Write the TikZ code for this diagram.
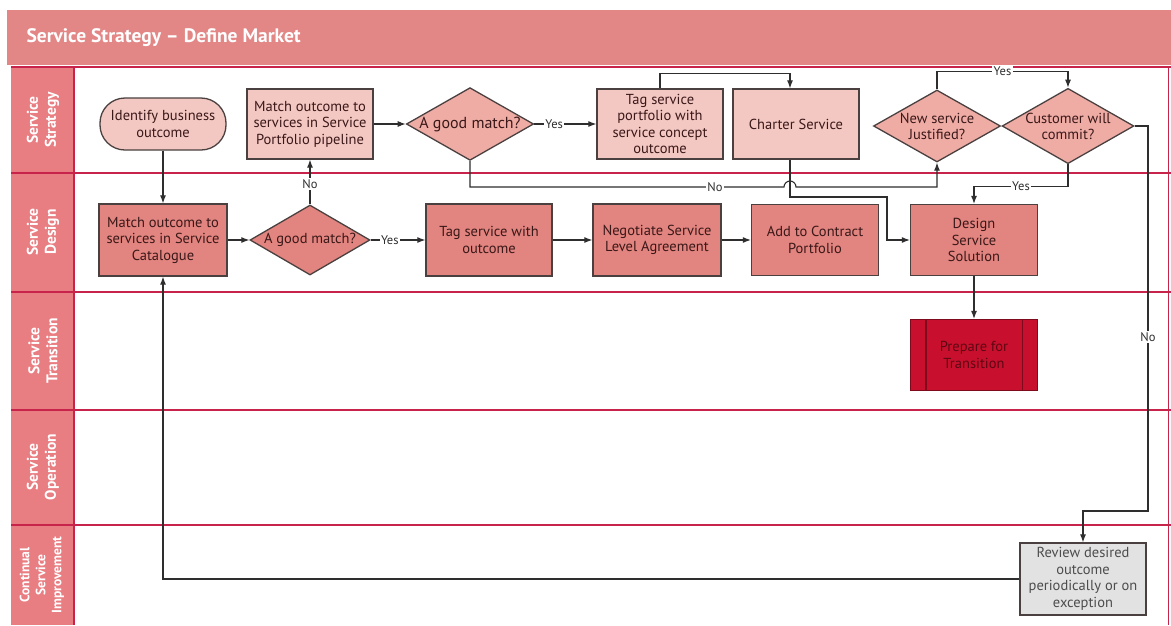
\documentclass[tikz,border=0pt]{standalone}
\usepackage{fontspec}
\setmainfont{PT Sans}
\usetikzlibrary{arrows.meta,shapes.geometric,calc}

\definecolor{bandfill}{HTML}{E38686}
\definecolor{colfill}{HTML}{E87D82}
\definecolor{laneline}{HTML}{C8234A}
\definecolor{lightfill}{HTML}{F4C8C2}
\definecolor{midfill}{HTML}{EFACA5}
\definecolor{darkfill}{HTML}{E2847F}
\definecolor{prepfill}{HTML}{C8102E}
\definecolor{prepline}{HTML}{7E0A1C}
\definecolor{preptext}{HTML}{5E0712}
\definecolor{reviewfill}{HTML}{E2E2E2}
\definecolor{boxline}{HTML}{4A4040}
\definecolor{boxtext}{HTML}{3A1818}
\definecolor{flowline}{HTML}{2E2E2E}

\begin{document}
\begin{tikzpicture}[x=1pt,y=-1pt,
  box/.style={draw=boxline, line width=1.3pt, align=center, text=boxtext,
    font=\fontsize{14.5}{16.5}\selectfont, inner sep=1pt,
    minimum width=126pt, minimum height=70pt},
  lightbox/.style={box, fill=lightfill},
  darkbox/.style={box, fill=darkfill},
  decision/.style={diamond, draw=boxline, line width=1.3pt, inner sep=0pt,
    aspect=1.75, minimum width=123pt, minimum height=70pt, align=center,
    text=boxtext, font=\fontsize{14.5}{16}\selectfont},
  flow/.style={draw=flowline, line width=1.1pt, -{Latex[length=8pt,width=6pt]}},
  tag/.style={fill=white, inner sep=1.5pt, text=flowline,
    font=\fontsize{12.5}{13}\selectfont},
  lanename/.style={rotate=90, align=center, text=white,
    font=\bfseries\fontsize{15.5}{18}\selectfont},
  laneedge/.style={draw=laneline, line width=2pt}
]
\useasboundingbox (0,0) rectangle (1171,625);
\fill[white] (0,0) rectangle (1171,625);

% title band
\fill[bandfill] (7,10) rectangle (1171,65);
\node[anchor=west, text=white, font=\bfseries\fontsize{19.5}{22}\selectfont]
  (title) at (23,38) {Service Strategy – Define Market};

% lane name column
\fill[colfill] (11,67) rectangle (74,625);
\node[lanename] (lss) at (43,120) {Service\\Strategy};
\node[lanename] (lsd) at (43,232) {Service\\Design};
\node[lanename] (lst) at (43,351) {Service\\Transition};
\node[lanename] (lso) at (43,467) {Service\\Operation};
\node[lanename, font=\bfseries\fontsize{13.5}{16}\selectfont]
  (lcsi) at (42,575) {Continual\\Service\\Improvement};

% lane borders
\foreach \yy in {67,173,292,410,525}
  \draw[laneedge] (11,\yy) -- (1171,\yy);
\draw[laneedge] (74,67) -- (74,625);
\draw[laneedge, line width=1pt] (1168,67) -- (1168,625);

% Service Strategy lane
\node[lightbox, rounded corners=25pt, minimum width=126pt, minimum height=52pt]
  (identify) at (163,124) {Identify business\\outcome};
\node[lightbox] (mportfolio) at (310,124) {Match outcome to\\services in Service\\Portfolio pipeline};
\node[decision, fill=midfill, font=\fontsize{16}{18}\selectfont] (sdiam) at (470,124) {A good match?};
\node[lightbox] (tagport) at (660,124) {Tag service\\portfolio with\\service concept\\outcome};
\node[lightbox] (charter) at (796,124) {Charter Service};
\node[decision, fill=midfill, minimum width=127pt, minimum height=72pt]
  (newsvc) at (937,126) {New service\\Justified?};
\node[decision, fill=midfill, minimum height=72pt]
  (commit) at (1068,126) {Customer will\\commit?};

% Service Design lane
\node[darkbox, minimum width=128pt, minimum height=72pt] (mcat) at (163,240)
  {Match outcome to\\services in Service\\Catalogue};
\node[decision, fill=darkfill, minimum width=120pt] (ddiam) at (310,240) {A good match?};
\node[darkbox, minimum height=72pt] (tagsvc) at (489,240) {Tag service with\\outcome};
\node[darkbox, minimum width=128pt, minimum height=72pt] (nego) at (657,240)
  {Negotiate Service\\Level Agreement};
\node[darkbox, minimum width=127pt, minimum height=71pt] (addcon) at (815,240)
  {Add to Contract\\Portfolio};
\node[darkbox, minimum width=127pt, minimum height=71pt] (design) at (974,240)
  {Design\\Service\\Solution};

% Service Transition lane
\node[box, fill=prepfill, draw=prepline, text=preptext, minimum width=127pt,
  minimum height=71pt] (prep) at (974,355) {Prepare for\\Transition};
\draw[draw=prepline, line width=1.3pt]
  ([xshift=16pt]prep.north west) -- ([xshift=16pt]prep.south west)
  ([xshift=-16pt]prep.north east) -- ([xshift=-16pt]prep.south east);

% Continual Service Improvement lane
\node[box, fill=reviewfill, text=black!70, minimum height=72pt] (review) at (1083,579)
  {Review desired\\outcome\\periodically or on\\exception};

% routing points
\coordinate (charterout) at ([xshift=-6pt]charter.south);
\coordinate (charterin) at ([xshift=-6pt]charter.north);
\coordinate (cbend) at (887,197);
\coordinate (hopL) at (784,187);
\coordinate (nobend) at (1148,511);

% connectors
\draw[flow] (identify) -- (mcat);
\draw[flow] (mcat) -- (ddiam);
\draw[flow] (ddiam.north) -- node[tag, pos=.45]{No} (mportfolio.south);
\draw[flow] (ddiam.east) -- node[tag, pos=.35]{Yes} (tagsvc.west);
\draw[flow] (tagsvc) -- (nego);
\draw[flow] (nego) -- (addcon);
\draw[flow] (mportfolio) -- (sdiam);
\draw[flow] (sdiam.east) -- node[tag, pos=.32]{Yes} (tagport.west);
\draw[flow] (tagport.north) -- ++(0,-15) -| (charterin);
\draw[flow] (charterout) |- (cbend) |- (design.west);
\draw[flow] (sdiam.south) |- node[tag, pos=.89]{No} (hopL)
  arc[start angle=180, end angle=0, radius=6pt] -| (newsvc.south);
\draw[flow] (newsvc.north) -- ++(0,-18) -| node[tag, pos=.25]{Yes} (commit.north);
\draw[flow] (commit.south) -- ++(0,22) -| node[tag, pos=.25]{Yes} (design.north);
\draw[flow] (commit.east) -| node[tag, pos=.774]{No} (nobend) -| (review.north);
\draw[flow] (review.west) -| (mcat.south);
\draw[flow] (design) -- (prep);
\end{tikzpicture}
\end{document}
